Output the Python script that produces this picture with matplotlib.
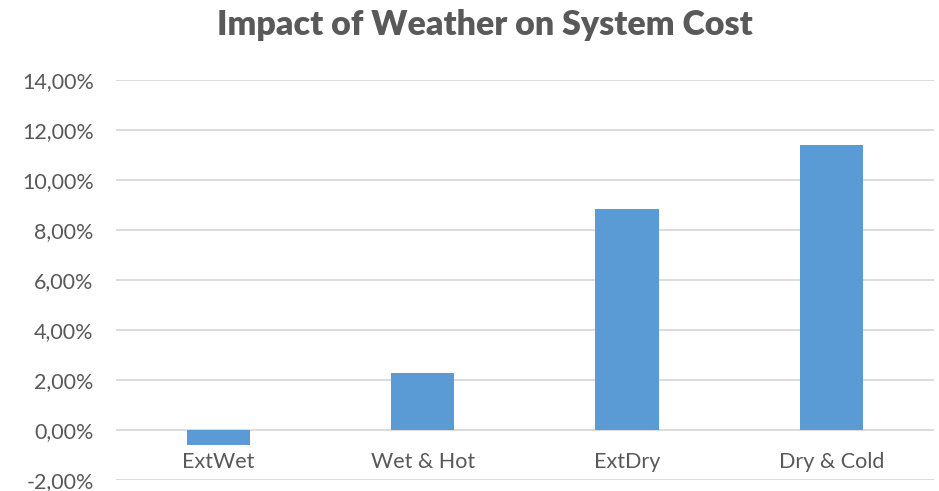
import matplotlib
matplotlib.use("Agg")
import matplotlib.pyplot as plt
from matplotlib.ticker import FuncFormatter

categories = ["ExtWet", "Wet & Hot", "ExtDry", "Dry & Cold"]
cost_impact = [-0.60, 2.29, 8.84, 11.40]  # percent change in system cost
y_ticks = [-2, 0, 2, 4, 6, 8, 10, 12, 14]

text_color = "#595959"
grid_color = "#d9d9d9"
bar_color = "#5B9BD5"

plt.rcParams["font.family"] = ["Lato", "DejaVu Sans"]

fig = plt.figure(figsize=(9.39, 4.91), dpi=100)
ax = fig.add_axes([0.1235, 0.0214, 0.871, 0.8156])

x = range(len(categories))
ax.bar(x, cost_impact, width=0.31, color=bar_color, zorder=3)

ax.set_xlim(-0.5, len(categories) - 0.5)
ax.set_ylim(y_ticks[0], y_ticks[-1])
ax.set_yticks(y_ticks)
ax.yaxis.set_major_formatter(FuncFormatter(lambda v, _: f"{v:.2f}%".replace(".", ",")))
ax.tick_params(axis="y", length=0, pad=16, labelsize=15.5, labelcolor=text_color)
ax.set_xticks([])
ax.grid(axis="y", color=grid_color, linewidth=1.3, zorder=0)
for side in ax.spines.values():
    side.set_visible(False)

# category labels sit just below the zero line
for i, name in enumerate(categories):
    ax.text(i, -1.25, name, ha="center", va="center", fontsize=15.5,
            color=text_color, zorder=4)

fig.suptitle("Impact of Weather on System Cost", x=0.516, y=0.982,
             fontsize=24.5, fontweight="heavy", color=text_color)

fig.savefig("out.png", dpi=100, facecolor="white")
